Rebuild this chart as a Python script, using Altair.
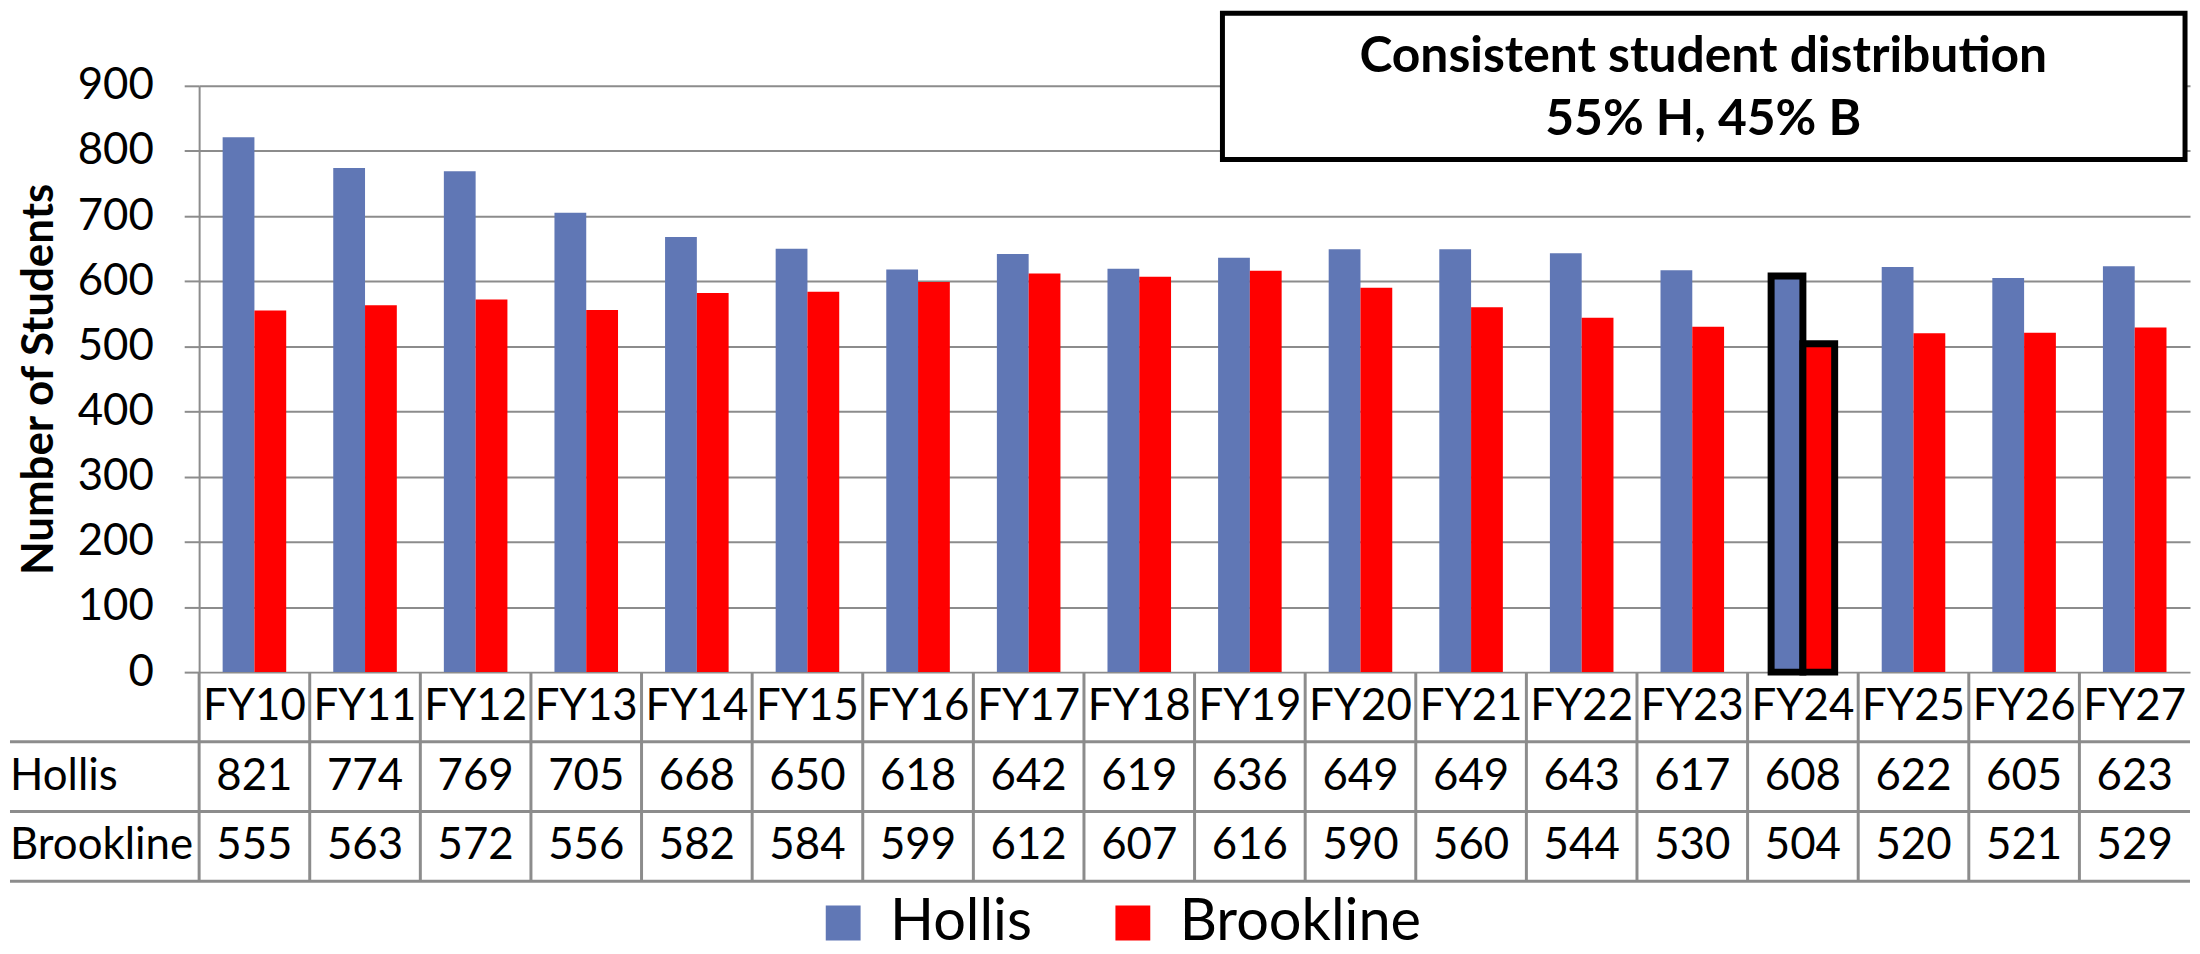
import altair as alt
import pandas as pd

# ---- data ----
years = ["FY10", "FY11", "FY12", "FY13", "FY14", "FY15", "FY16", "FY17", "FY18",
         "FY19", "FY20", "FY21", "FY22", "FY23", "FY24", "FY25", "FY26", "FY27"]
hollis = [821, 774, 769, 705, 668, 650, 618, 642, 619, 636, 649, 649, 643, 617, 608, 622, 605, 623]
brookline = [555, 563, 572, 556, 582, 584, 599, 612, 607, 616, 590, 560, 544, 530, 504, 520, 521, 529]
series = ["Hollis", "Brookline"]
highlight_year = "FY24"
y_ticks = [0, 100, 200, 300, 400, 500, 600, 700, 800, 900]
note_lines = ["Consistent student distribution", "55% H, 45% B"]
y_title = "Number of Students"
header_key = "Year"

# ---- tables built from the arrays ----
bars_df = pd.DataFrame(
    [{"FY": y, "series": "Hollis", "value": v} for y, v in zip(years, hollis)]
    + [{"FY": y, "series": "Brookline", "value": v} for y, v in zip(years, brookline)]
)
table_df = pd.DataFrame(
    [{"FY": y, "row": header_key, "label": y} for y in years]
    + [{"FY": y, "row": "Hollis", "label": str(v)} for y, v in zip(years, hollis)]
    + [{"FY": y, "row": "Brookline", "label": str(v)} for y, v in zip(years, brookline)]
)
note_df = pd.DataFrame({"text": ["\n".join(note_lines)]})
rowlab_df = pd.DataFrame({"row": series})
bottom_df = pd.DataFrame({"row": [series[-1]]})
vline_df = pd.DataFrame({"FY": years})

# ---- style ----
FONT = "Lato"
BLUE = "#6077B5"
RED = "#FF0000"
GRID = "#8C8C8C"
W = 2000
H = 589
TH = 210

xscale = alt.Scale(domain=years, paddingInner=0, paddingOuter=0)

bars = alt.Chart(bars_df).mark_bar(stroke="black").encode(
    x=alt.X("FY:N", scale=xscale, sort=years, axis=None),
    xOffset=alt.XOffset("series:N", sort=series,
                        scale=alt.Scale(paddingInner=0, paddingOuter=0.74)),
    y=alt.Y("value:Q", scale=alt.Scale(domain=[0, 900], nice=False),
            axis=alt.Axis(values=y_ticks, title=y_title, grid=True,
                          gridColor=GRID, gridWidth=2, tickColor=GRID, tickWidth=2,
                          tickSize=15, domainColor=GRID, domainWidth=2,
                          labelFont=FONT, labelFontSize=44, labelColor="black",
                          labelPadding=31, titleFont=FONT, titleFontSize=44,
                          titleFontWeight="bold", titleColor="black", titlePadding=16)),
    color=alt.Color("series:N", scale=alt.Scale(domain=series, range=[BLUE, RED]),
                    legend=alt.Legend(title=None, orient="none", legendX=618, legendY=812,
                                      direction="horizontal", symbolType="square",
                                      symbolSize=1225, symbolStrokeWidth=0,
                                      labelFont=FONT, labelFontSize=58, labelColor="black",
                                      labelOffset=18, columnPadding=72, padding=0,
                                      labelLimit=500)),
    strokeWidth=alt.condition(alt.datum.FY == highlight_year, alt.value(7), alt.value(0)),
)

box = alt.Chart(note_df).mark_rect(fill="white", stroke="black", strokeWidth=5).encode(
    x=alt.value(1028), x2=alt.value(1995), y=alt.value(-73), y2=alt.value(74)
)
note = alt.Chart(note_df).mark_text(
    font=FONT, fontSize=50, fontWeight="bold", color="black", align="center",
    baseline="alphabetic", lineBreak="\n", lineHeight=63
).encode(x=alt.value(1511), y=alt.value(-14), text="text:N")

main = alt.layer(bars, box, note).properties(width=W, height=H)

yrow = alt.Scale(domain=[header_key] + series, paddingInner=0, paddingOuter=0)
xt = alt.X("FY:N", scale=xscale, sort=years, axis=None)

cells = alt.Chart(table_df).mark_text(font=FONT, fontSize=44, color="black").encode(
    x=xt, y=alt.Y("row:N", scale=yrow, axis=None), text="label:N"
)
rowlabels = alt.Chart(rowlab_df).mark_text(font=FONT, fontSize=44, color="black",
                                           align="left").encode(
    x=alt.value(-190), y=alt.Y("row:N", scale=yrow, axis=None), text="row:N"
)
hlines = alt.Chart(rowlab_df).mark_rule(color=GRID, strokeWidth=3).encode(
    y=alt.Y("row:N", scale=yrow, axis=None, bandPosition=0),
    x=alt.value(-190), x2=alt.value(W)
)
hbottom = alt.Chart(bottom_df).mark_rule(color=GRID, strokeWidth=3).encode(
    y=alt.Y("row:N", scale=yrow, axis=None, bandPosition=1),
    x=alt.value(-190), x2=alt.value(W)
)
vlines = alt.Chart(vline_df).mark_rule(color=GRID, strokeWidth=3).encode(
    x=alt.X("FY:N", scale=xscale, sort=years, axis=None, bandPosition=0),
    y=alt.value(0), y2=alt.value(TH)
)
table = alt.layer(hlines, hbottom, vlines, cells, rowlabels).properties(width=W, height=TH)

chart = alt.vconcat(main, table, spacing=0, bounds="flush").properties(
    padding=0, background="white"
).configure_view(strokeWidth=0)

chart.save("out.html", embed_options={"renderer": "svg", "actions": False})
